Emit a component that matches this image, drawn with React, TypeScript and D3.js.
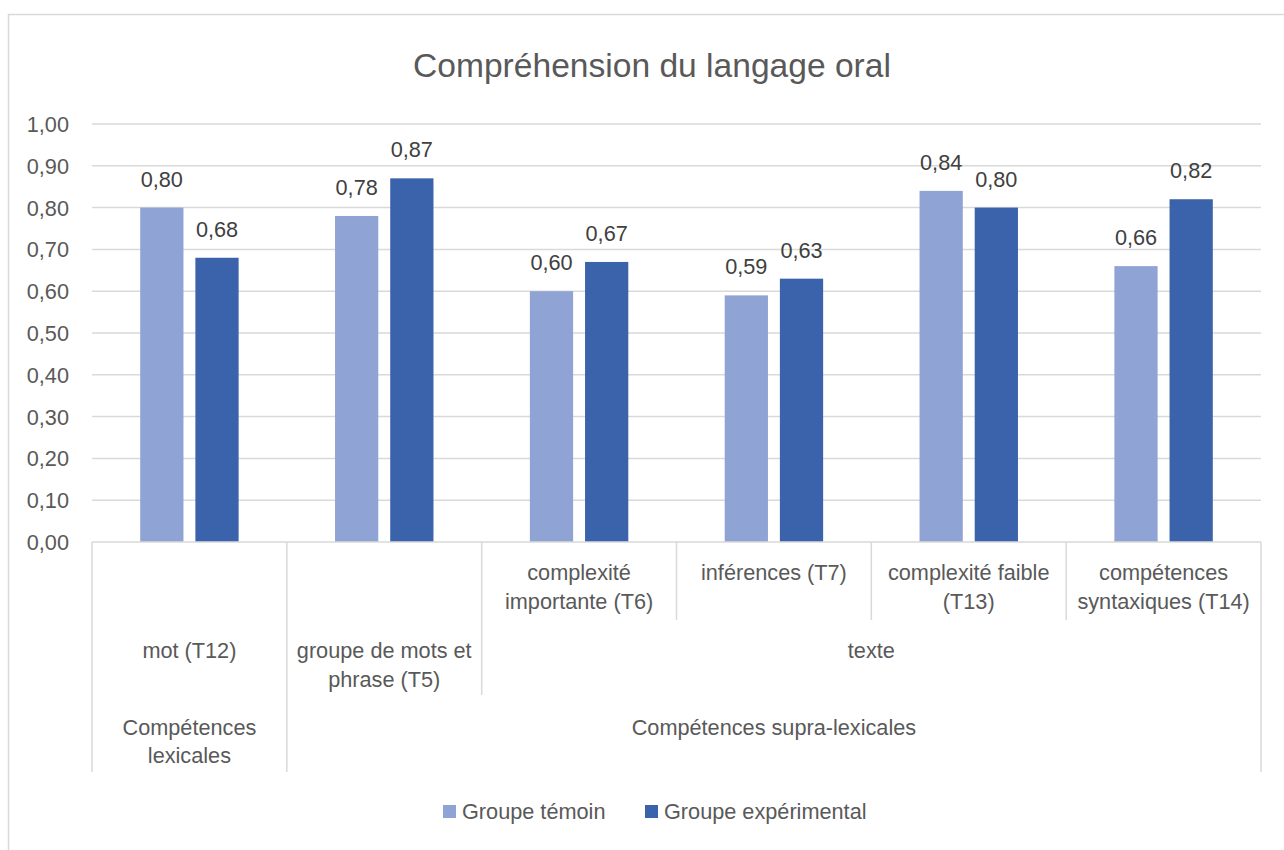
import * as d3 from "d3";

const categories = [
  "mot (T12)",
  "groupe de mots et phrase (T5)",
  "complexité importante (T6)",
  "inférences (T7)",
  "complexité faible (T13)",
  "compétences syntaxiques (T14)",
];
// label wrapping as in the original
const categoryLines = [
  ["mot (T12)"],
  ["groupe de mots et", "phrase (T5)"],
  ["complexité", "importante (T6)"],
  ["inférences (T7)"],
  ["complexité faible", "(T13)"],
  ["compétences", "syntaxiques (T14)"],
];
const temoin = [0.8, 0.78, 0.6, 0.59, 0.84, 0.66];
const experimental = [0.68, 0.87, 0.67, 0.63, 0.8, 0.82];
const series = ["Groupe témoin", "Groupe expérimental"];
const colors = ["#8FA4D5", "#3B63AC"];
const yTicks = [0, 0.1, 0.2, 0.3, 0.4, 0.5, 0.6, 0.7, 0.8, 0.9, 1.0];

// middle level: "texte" covers the last four categories
const midGroups = [{ label: "texte", from: 2, to: 5 }];
const topGroups = [
  { lines: ["Compétences", "lexicales"], from: 0, to: 0 },
  { lines: ["Compétences supra-lexicales"], from: 1, to: 5 },
];

const W = 1284;
const H = 850;
const left = 92;
const right = 1261;
const top = 124;
const bottom = 542;
const font = "'Liberation Sans', Arial, sans-serif";
const textColor = "#595959";
const grid = "#D9D9D9";
const fs = 21.7;

export default function App() {
  const x = d3.scaleBand<string>().domain(categories).range([left, right]).paddingInner(0).paddingOuter(0);
  const step = x.step();
  const x1 = d3.scaleBand<string>().domain(series).range([48.2, step - 48.2]).paddingInner(0.216);
  const y = d3.scaleLinear().domain([0, 1]).range([bottom, top]);
  const fmt = (v: number) => d3.format(".2f")(v).replace(".", ",");

  const data = categories.map((c, i) => ({ c, vals: [temoin[i], experimental[i]] }));
  const edge = (i: number) => x(categories[i])!;
  const endEdge = (i: number) => edge(i) + step;

  // separators between category cells, depth depends on the level they close
  const level1Bottom = 620;
  const level2Bottom = 695;
  const level3Bottom = 772;
  const seps: { x: number; y2: number }[] = [];
  for (let i = 0; i <= categories.length; i++) {
    const xx = i < categories.length ? edge(i) : right;
    let y2 = level1Bottom;
    if (i === 0 || i === categories.length) y2 = level3Bottom;
    else if (topGroups.some((g) => g.from === i)) y2 = level3Bottom;
    else if (midGroups.some((g) => g.from === i)) y2 = level2Bottom;
    seps.push({ x: xx, y2 });
  }

  return (
    <svg width={W} height={H} style={{ position: "absolute", left: 0, top: 0, background: "#fff" }} fontFamily={font}>
      <rect x={8.5} y={14.5} width={W + 20} height={H + 20} fill="#fff" stroke="#D9D9D9" strokeWidth={1.5} />
      <text x={652} y={77} textAnchor="middle" fontSize={33.6} fill={textColor}>
        Compréhension du langage oral
      </text>

      {yTicks.map((t) => (
        <g key={t}>
          {t > 0 && <line x1={left} x2={right} y1={y(t)} y2={y(t)} stroke={grid} strokeWidth={1.5} />}
          <text x={69} y={y(t) + 8} textAnchor="end" fontSize={fs} fill={textColor}>
            {fmt(t)}
          </text>
        </g>
      ))}

      {data.map((d) => (
        <g key={d.c} transform={`translate(${x(d.c)},0)`}>
          {d.vals.map((v, k) => (
            <g key={k}>
              <rect x={x1(series[k])} y={y(v)} width={x1.bandwidth()} height={bottom - y(v)} fill={colors[k]} />
              <text
                x={x1(series[k])! + x1.bandwidth() / 2}
                y={y(v) - 21}
                textAnchor="middle"
                fontSize={fs}
                fill="#404040"
              >
                {fmt(v)}
              </text>
            </g>
          ))}
        </g>
      ))}

      <line x1={left} x2={right} y1={bottom} y2={bottom} stroke={grid} strokeWidth={1.5} />
      {seps.map((s, i) => (
        <line key={i} x1={s.x} x2={s.x} y1={bottom} y2={s.y2} stroke={grid} strokeWidth={1.5} />
      ))}

      {categories.map((c, i) => {
        const hasMid = midGroups.some((g) => i >= g.from && i <= g.to);
        const y0 = hasMid ? 580 : 658;
        return (
          <text key={c} textAnchor="middle" fontSize={fs} fill={textColor}>
            {categoryLines[i].map((ln, j) => (
              <tspan key={j} x={x(c)! + step / 2} y={y0 + j * 29}>
                {ln}
              </tspan>
            ))}
          </text>
        );
      })}

      {midGroups.map((g) => (
        <text key={g.label} x={(edge(g.from) + endEdge(g.to)) / 2} y={658} textAnchor="middle" fontSize={fs} fill={textColor}>
          {g.label}
        </text>
      ))}

      {topGroups.map((g, gi) => (
        <text key={gi} textAnchor="middle" fontSize={fs} fill={textColor}>
          {g.lines.map((ln, j) => (
            <tspan key={j} x={(edge(g.from) + endEdge(g.to)) / 2} y={735 + j * 28}>
              {ln}
            </tspan>
          ))}
        </text>
      ))}

      <g>
        <rect x={443} y={805} width={13} height={13} fill={colors[0]} />
        <text x={462} y={819} fontSize={fs} fill={textColor}>
          {series[0]}
        </text>
        <rect x={645} y={805} width={13} height={13} fill={colors[1]} />
        <text x={664} y={819} fontSize={fs} fill={textColor}>
          {series[1]}
        </text>
      </g>
    </svg>
  );
}
